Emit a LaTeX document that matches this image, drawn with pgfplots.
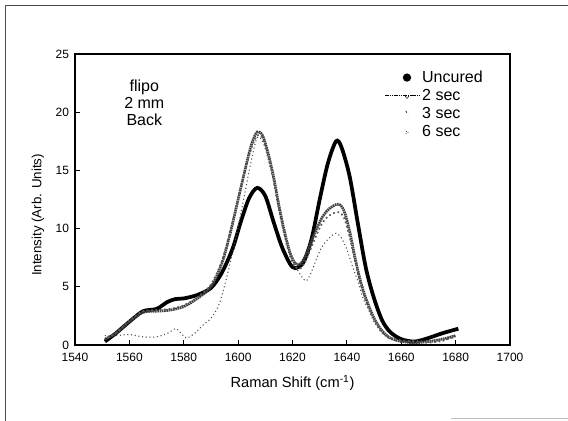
\documentclass[border=0pt]{standalone}
\usepackage{fontspec}
\setmainfont{Liberation Sans}
\usepackage{pgfplots}
\pgfplotsset{compat=1.18}
\begin{document}
\begin{tikzpicture}
\path[use as bounding box] (0,0) rectangle (426pt,315.75pt);
% scan frame
\draw[black!70, line width=0.6pt] (3.75pt,0pt) -- (3.75pt,312pt) -- (426pt,312pt);
\draw[black!25, line width=0.6pt] (338pt,2pt) -- (426pt,2pt);
\begin{axis}[
  at={(56.25pt,57pt)}, anchor=south west,
  scale only axis, width=326.25pt, height=218.25pt,
  xmin=1540, xmax=1700, ymin=0, ymax=25,
  xtick={1540,1560,...,1700}, ytick={0,5,...,25},
  tick align=inside, tick pos=left, major tick length=3.5pt,
  /pgf/number format/assume math mode=true,
  /pgf/number format/1000 sep={},
  tick label style={font=\fontsize{9}{10}\selectfont},
  xticklabel style={yshift=-2.5pt},
  yticklabel style={xshift=-1pt},
  axis line style={line width=0.8pt},
  every tick/.style={black, line width=0.6pt},
  xlabel={Raman Shift (cm\textsuperscript{-1})},
  ylabel={Intensity (Arb. Units)},
  xlabel style={font=\fontsize{11}{13}\selectfont, at={(axis description cs:0.5,-0.13)}, anchor=center},
  ylabel style={font=\fontsize{10}{12}\selectfont, at={(axis description cs:-0.085,0.447)}, anchor=center},
  legend style={at={(0.708,0.957)}, anchor=north west, draw=none, fill=none,
    font=\fontsize{12}{13}\selectfont, row sep=-0.4pt, inner sep=1pt},
  legend cell align=left,
]
\addplot[black, line width=2.8pt, smooth,
  legend image code/.code={\fill[black] (0.58cm,0cm) circle (1.6pt);}]
coordinates {
(1551,0.3)(1555,1.0)(1560,2.0)(1565,2.9)(1570,3.1)(1574,3.7)(1577,3.95)(1580,4.0)
(1585,4.3)(1590,4.9)(1594,6.2)(1598,8.3)(1601,10.6)(1604,12.6)(1607,13.5)(1610,12.8)
(1613,10.6)(1616,8.5)(1619,7.0)(1621,6.6)(1624,7.1)(1627,9.1)(1630,12.5)(1633,15.6)
(1636,17.5)(1638,17.0)(1641,14.5)(1644,10.5)(1647,6.6)(1650,4.0)(1653,2.1)(1656,1.1)
(1660,0.5)(1665,0.3)(1670,0.6)(1675,1.0)(1681,1.4)
};
\addlegendentry{Uncured}
\addplot[black!75, line width=2pt, dash pattern=on 1.2pt off 0.5pt, smooth,
  legend image code/.code={\draw[black, line width=0.6pt] (0cm,0cm) -- (0.9cm,0cm);
     \draw[black, line width=0.5pt] (0.53cm,0cm) -- (0.58cm,-0.07cm) -- (0.63cm,0cm);}]
coordinates {
(1551,0.5)(1555,1.0)(1560,2.0)(1565,2.8)(1570,2.9)(1575,3.0)(1580,3.3)(1585,4.0)
(1590,5.0)(1594,7.0)(1597,9.5)(1600,12.5)(1603,15.5)(1605,17.3)(1607,18.3)(1609,18.0)
(1611,16.5)(1613,14.5)(1615,12.0)(1617,9.8)(1619,8.0)(1621,7.0)(1623,7.0)(1625,7.8)
(1628,9.5)(1631,11.0)(1634,11.8)(1637,12.1)(1639,11.5)(1641,9.8)(1643,7.5)(1645,5.5)
(1647,4.0)(1650,2.3)(1653,1.2)(1656,0.6)(1660,0.3)(1665,0.2)(1670,0.3)(1675,0.5)(1680,0.8)
};
\addlegendentry{2 sec}
\addplot[black!65, line width=1.3pt, dotted, smooth,
  legend image code/.code={\draw[black, line width=0.6pt] (0.55cm,0.07cm) -- (0.61cm,-0.03cm);}]
coordinates {
(1552,0.6)(1556,1.2)(1560,2.1)(1565,2.9)(1570,3.0)(1575,3.1)(1580,3.4)(1585,4.1)
(1590,5.2)(1594,7.2)(1597,9.7)(1600,12.6)(1603,15.4)(1605,17.0)(1607,18.0)(1609,17.8)
(1611,16.3)(1613,14.3)(1615,11.8)(1617,9.5)(1619,7.7)(1621,6.7)(1623,6.6)(1625,7.3)
(1628,9.0)(1631,10.5)(1634,11.2)(1637,11.4)(1639,10.9)(1641,9.3)(1643,7.2)(1645,5.3)
(1647,3.8)(1650,2.2)(1653,1.1)(1656,0.6)(1660,0.4)(1665,0.3)(1670,0.2)(1675,0.4)(1680,0.7)
};
\addlegendentry{3 sec}
\addplot[black!70, line width=0.8pt, dotted, smooth,
  legend image code/.code={\draw[black!70, line width=0.5pt] (0.54cm,-0.05cm) -- (0.62cm,-0.05cm) -- (0.58cm,0.04cm) -- cycle;}]
coordinates {
(1551,0.8)(1555,0.8)(1560,0.9)(1565,0.7)(1570,0.7)(1574,1.0)(1577,1.4)(1579,1.0)
(1581,0.6)(1584,1.0)(1587,1.7)(1590,2.3)(1593,3.5)(1596,6.0)(1599,9.0)(1602,12.5)
(1605,16.0)(1607,17.8)(1609,17.5)(1611,16.0)(1613,14.0)(1615,11.5)(1617,9.5)(1619,7.8)
(1621,6.8)(1623,6.0)(1625,5.5)(1627,6.3)(1629,7.5)(1631,8.5)(1634,9.3)(1636,9.6)
(1638,9.2)(1640,8.2)(1642,6.8)(1644,5.5)(1646,4.0)(1648,3.0)(1650,2.0)(1653,1.0)
(1656,0.5)(1660,0.3)(1665,0.4)(1670,0.3)(1675,0.3)(1680,0.9)
};
\addlegendentry{6 sec}
\node[align=center, font=\fontsize{12}{12.75}\selectfont] at (axis cs:1565.5,20.8) {flipo\\2 mm\\Back};
\end{axis}
\end{tikzpicture}
\end{document}
